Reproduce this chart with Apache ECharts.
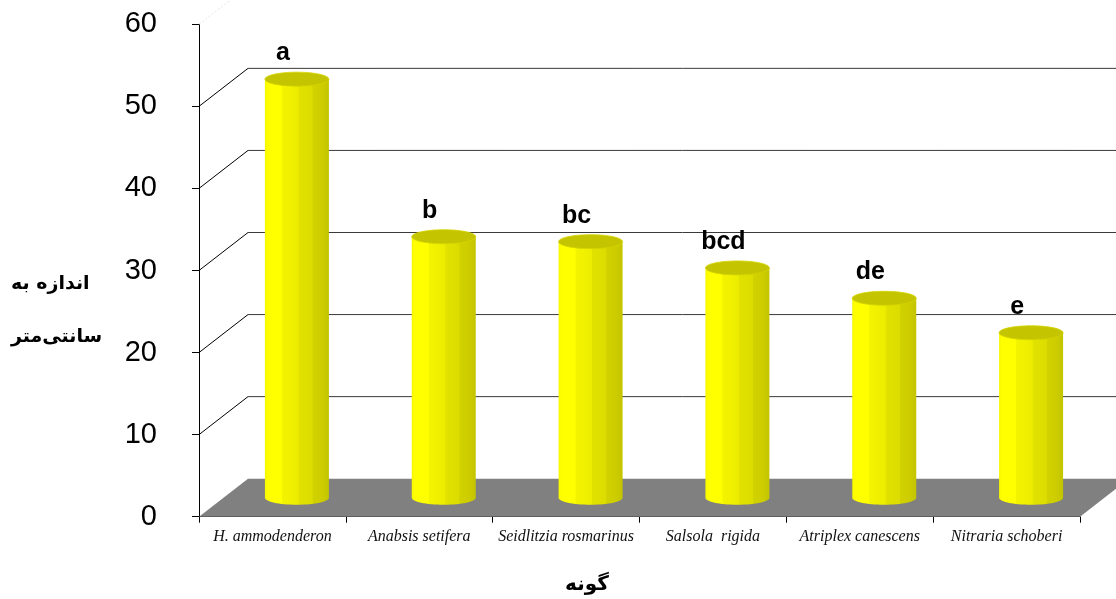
<!DOCTYPE html>
<html>
<head>
<meta charset="utf-8">
<script src="https://cdn.jsdelivr.net/npm/echarts@6/dist/echarts.min.js"></script>
<style>
  html, body { margin: 0; padding: 0; background: #fff; }
  #chart { width: 1116px; height: 599px; }
</style>
</head>
<body>
<div id="chart"></div>
<script>
// ---- data ----
const categories = ['H. ammodenderon', 'Anabsis setifera', 'Seidlitzia rosmarinus', 'Salsola  rigida', 'Atriplex canescens', 'Nitraria schoberi'];
const heights = [51, 31.8, 31.2, 28, 24.3, 20.1];
const groupLetters = ['a', 'b', 'bc', 'bcd', 'de', 'e'];
const yTicks = [0, 10, 20, 30, 40, 50, 60];
const yTitleLines = ['اندازه به', 'سانتی‌متر'];
const xTitle = 'گونه';

// ---- 3D look (pixel offsets of the depth) ----
const DX = 49, DY = -38;
const K = 0.5523;

function ellipsePath(cx, cy, rx, ry) {
  return 'M' + (cx - rx) + ',' + cy +
    ' C' + (cx - rx) + ',' + (cy - K * ry) + ' ' + (cx - K * rx) + ',' + (cy - ry) + ' ' + cx + ',' + (cy - ry) +
    ' C' + (cx + K * rx) + ',' + (cy - ry) + ' ' + (cx + rx) + ',' + (cy - K * ry) + ' ' + (cx + rx) + ',' + cy +
    ' C' + (cx + rx) + ',' + (cy + K * ry) + ' ' + (cx + K * rx) + ',' + (cy + ry) + ' ' + cx + ',' + (cy + ry) +
    ' C' + (cx - K * rx) + ',' + (cy + ry) + ' ' + (cx - rx) + ',' + (cy + K * ry) + ' ' + (cx - rx) + ',' + cy + ' Z';
}

const chart = echarts.init(document.getElementById('chart'));

const barGradient = new echarts.graphic.LinearGradient(0, 0, 1, 0, [
  { offset: 0, color: '#f6f600' },
  { offset: 0.04, color: '#ffff00' },
  { offset: 0.26, color: '#ffff00' },
  { offset: 0.27, color: '#f4f400' },
  { offset: 0.52, color: '#ecec00' },
  { offset: 0.53, color: '#e2e200' },
  { offset: 0.74, color: '#dcdc00' },
  { offset: 0.75, color: '#d2d200' },
  { offset: 0.9, color: '#cccc00' },
  { offset: 1, color: '#c4c400' }
]);

const option = {
  animation: false,
  backgroundColor: '#ffffff',
  grid: { left: 199, right: 36, top: 24.3, bottom: 82.3, containLabel: false },
  xAxis: {
    type: 'category',
    data: categories,
    boundaryGap: true,
    axisLine: { show: true, lineStyle: { color: '#000', width: 1 } },
    axisTick: { show: true, length: 6, interval: 0, lineStyle: { color: '#000' } },
    axisLabel: {
      interval: 0, margin: 12, fontSize: 16, fontStyle: 'italic',
      fontFamily: 'Liberation Serif', color: '#111'
    },
    splitLine: { show: false }
  },
  yAxis: {
    type: 'value', min: 0, max: 60, interval: 10,
    axisLine: { show: true, lineStyle: { color: '#000', width: 1 } },
    axisTick: { show: true, length: 7, lineStyle: { color: '#000' } },
    axisLabel: { margin: 42, fontSize: 29, fontFamily: 'Liberation Sans', color: '#000' },
    splitLine: { show: false }
  },
  graphic: [
    { type: 'text', left: 11, top: 275, style: { text: yTitleLines[0], font: 'bold 19px "DejaVu Sans"', fill: '#000', width: 80, align: 'center' } },
    { type: 'text', left: 11, top: 328, style: { text: yTitleLines[1], font: 'bold 19px "DejaVu Sans"', fill: '#000', width: 80, align: 'center' } },
    { type: 'text', left: 565, top: 575, style: { text: xTitle, font: 'bold 20px "DejaVu Sans"', fill: '#000' } }
  ],
  series: [
    {
      // back wall grid lines + diagonals + floor
      type: 'custom',
      z: 1,
      silent: true,
      clip: false,
      data: yTicks.map(v => [v]),
      renderItem: function (params, api) {
        const v = api.value(0);
        const cs = params.coordSys;
        const y = api.coord([0, v])[1];
        const x0 = cs.x, x1 = cs.x + cs.width;
        const children = [];
        const isTop = v === yTicks[yTicks.length - 1];
        if (v === 0) {
          children.push({
            type: 'polygon',
            shape: { points: [[x0, y], [x1, y], [x1 + DX, y + DY], [x0 + DX, y + DY]] },
            style: { fill: '#808080' }
          });
        } else {
          children.push({
            type: 'line',
            shape: { x1: x0 + DX, y1: y + DY, x2: 1116 + 60, y2: y + DY },
            style: { stroke: '#3a3a3a', lineWidth: 1 }
          });
          children.push({
            type: 'line',
            shape: { x1: x0, y1: y, x2: x0 + DX, y2: y + DY },
            style: isTop ? { stroke: '#e6e6e6', lineWidth: 1, lineDash: [2, 2] } : { stroke: '#000', lineWidth: 1 }
          });
        }
        return { type: 'group', children: children };
      }
    },
    {
      // cylinders
      type: 'custom',
      z: 3,
      clip: false,
      data: heights.map((h, i) => [i, h]),
      encode: { x: 0, y: 1 },
      renderItem: function (params, api) {
        const i = api.value(0), v = api.value(1);
        const top = api.coord([i, v]);
        const base = api.coord([i, 0]);
        const cx = top[0] + DX / 2;
        const yt = top[1] + DY / 2;
        const yb = base[1] + DY / 2;
        const rx = 32, ry = 7;
        const body = 'M' + (cx - rx) + ',' + yt + ' L' + (cx - rx) + ',' + yb +
          ' C' + (cx - rx) + ',' + (yb + K * ry) + ' ' + (cx - K * rx) + ',' + (yb + ry) + ' ' + cx + ',' + (yb + ry) +
          ' C' + (cx + K * rx) + ',' + (yb + ry) + ' ' + (cx + rx) + ',' + (yb + K * ry) + ' ' + (cx + rx) + ',' + yb +
          ' L' + (cx + rx) + ',' + yt + ' Z';
        return {
          type: 'group',
          children: [
            { type: 'path', shape: { pathData: body }, style: { fill: barGradient } },
            { type: 'path', shape: { pathData: ellipsePath(cx, yt, rx, ry) }, style: { fill: '#c4c400', stroke: '#d6d600', lineWidth: 0.8 } },
            {
              type: 'text',
              style: {
                text: groupLetters[i], x: cx - 14, y: yt - ry - 19,
                align: 'center', verticalAlign: 'middle',
                font: 'bold 25px "Liberation Sans"', fill: '#000'
              }
            }
          ]
        };
      }
    }
  ]
};

chart.setOption(option);
</script>
</body>
</html>
